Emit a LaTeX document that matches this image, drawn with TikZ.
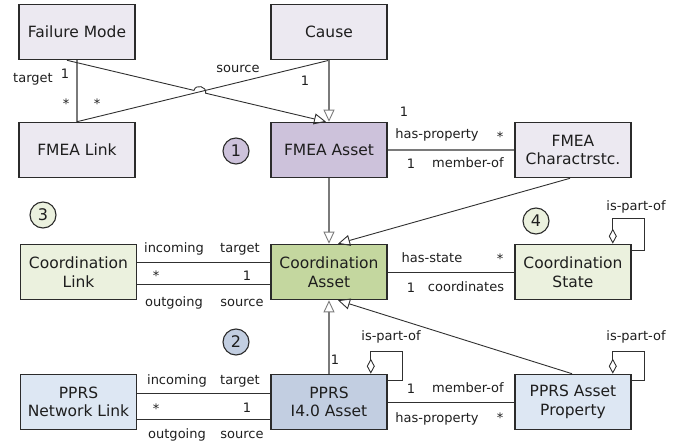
\documentclass[tikz,border=0pt]{standalone}
\usepackage{fontspec}
\setmainfont{DejaVu Sans}
\usetikzlibrary{arrows.meta,calc}

\definecolor{boxline}{HTML}{2B2B2B}
\definecolor{txt}{HTML}{1E1E1E}
\definecolor{linkdark}{HTML}{303030}
\definecolor{linkgray}{HTML}{7A7A7A}
\definecolor{fmeaLight}{HTML}{ECE9F1}
\definecolor{fmeaDark}{HTML}{CDC2DB}
\definecolor{coordLight}{HTML}{EBF1DE}
\definecolor{coordDark}{HTML}{C4D79F}
\definecolor{pprsLight}{HTML}{DDE7F3}
\definecolor{pprsDark}{HTML}{C2CEE1}

\begin{document}
\begin{tikzpicture}[x=1pt,y=-1pt,
  box/.style={draw=boxline, line width=1.6pt, minimum width=116pt,
    minimum height=55pt, inner sep=0pt, align=center, text=txt,
    font=\fontsize{15.5}{18.5}\selectfont},
  badge/.style={circle, draw=boxline, line width=1.1pt, minimum size=26pt,
    inner sep=0pt, text=txt, font=\fontsize{16}{18}\selectfont},
  lbl/.style={anchor=base, inner sep=0pt, text=txt,
    font=\fontsize{13}{15}\selectfont},
  assoc/.style={draw=linkdark, line width=0.9pt},
  assocgray/.style={draw=linkgray, line width=1.1pt},
  gen/.style={draw=linkdark, line width=0.9pt,
    -{Triangle[open, width=11pt, length=12pt, line width=0.9pt]}},
  gengray/.style={draw=linkgray, line width=1.1pt,
    -{Triangle[open, width=11pt, length=12pt, line width=0.9pt]}},
  partof/.style={draw=linkdark, line width=0.9pt,
    {Diamond[open, width=8pt, length=15pt, line width=0.9pt]}-},
]
\useasboundingbox (0,0) rectangle (694,444);

% ---- FMEA layer ----
\node[box, fill=fmeaLight] (fm)    at (77,32)  {Failure Mode};
\node[box, fill=fmeaLight] (cause) at (329,32) {Cause};
\node[box, fill=fmeaLight] (fl)    at (77,150) {FMEA Link};
\node[box, fill=fmeaDark]  (fa)    at (329,150) {FMEA Asset};
\node[box, fill=fmeaLight] (fc)    at (573,150) {FMEA\\Charactrstc.};

% ---- Coordination layer ----
\node[box, fill=coordLight] (cl) at (78.5,272) {Coordination\\Link};
\node[box, fill=coordDark]  (ca) at (329,272)  {Coordination\\Asset};
\node[box, fill=coordLight] (cs) at (573,272)  {Coordination\\State};

% ---- PPRS layer ----
\node[box, fill=pprsLight] (pl) at (78.5,402) {PPRS\\Network Link};
\node[box, fill=pprsDark]  (pa) at (329,402)  {PPRS\\I4.0 Asset};
\node[box, fill=pprsLight] (pp) at (573,402)  {PPRS Asset\\Property};

% ---- numbered badges ----
\node[badge, fill=fmeaDark]   (b1) at (236,151) {1};
\node[badge, fill=pprsDark]   (b2) at (236,342) {2};
\node[badge, fill=coordLight] (b3) at (43,215)  {3};
\node[badge, fill=coordLight] (b4) at (536,221) {4};

% ---- FMEA links ----
\draw[assocgray] (fm) -- (fl);
\draw[assoc] (fl.north) -- (cause.south);
% failure mode to FMEA asset, hopping over the link-to-cause line
\coordinate (hopA) at (194.0,90.4);
\coordinate (hopB) at (205.6,93.2);
\draw[gen] ([xshift=-10pt]fm.south) -- (hopA)
  .. controls (195.6,83.6) and (207.2,86.4) .. (hopB)
  -- ([xshift=-3pt]fa.north);
\draw[gengray] (cause) -- (fa);
\draw[assocgray] (fa) -- (fc);

\node[lbl] (t1) at (33,82)  {target};
\node[lbl] (t2) at (65,78)  {1};
\node[lbl] (t3) at (66,108) {*};
\node[lbl] (t4) at (97,108) {*};
\node[lbl] (t5) at (238,73) {source};
\node[lbl] (t6) at (305,85) {1};
\node[lbl] (t7) at (404,117) {1};
\node[lbl] (t8) at (437,139) {has-property};
\node[lbl] (t9) at (500,141) {*};
\node[lbl] (t10) at (411,168) {1};
\node[lbl] (t11) at (468,167) {member-of};

% ---- specialisation into Coordination Asset ----
\draw[gengray] (fa) -- (ca);
\draw[gen] ([xshift=-3pt]fc.south) -- ([xshift=9pt]ca.north);
\draw[gengray] (pa) -- (ca);
\draw[gen] ([xshift=-1pt]pp.north) -- ([xshift=9pt]ca.south);
\node[lbl] (t12) at (335,364) {1};

% ---- Coordination links ----
\draw[assoc] ([yshift=10pt]cl.east) -- ([yshift=10pt]ca.west);
\draw[assoc] ([yshift=-12pt]cl.east) -- ([yshift=-12pt]ca.west);
\draw[assoc] (ca) -- (cs);
\draw[partof] ([xshift=-19pt]cs.north east) -- ++(0,-25)
  -| ([xshift=13pt,yshift=-7pt]cs.north east) -- ([yshift=-7pt]cs.north east);

\node[lbl] (t13) at (174,252) {incoming};
\node[lbl] (t14) at (240,252) {target};
\node[lbl] (t15) at (156,280) {*};
\node[lbl] (t16) at (247,280) {1};
\node[lbl] (t17) at (174,306) {outgoing};
\node[lbl] (t18) at (242,306) {source};
\node[lbl] (t19) at (432,262) {has-state};
\node[lbl] (t20) at (500,263) {*};
\node[lbl] (t21) at (411,292) {1};
\node[lbl] (t22) at (466,291) {coordinates};
\node[lbl] (t23) at (636,210) {is-part-of};

% ---- PPRS links ----
\draw[assoc] ([yshift=9pt]pl.east) -- ([yshift=9pt]pa.west);
\draw[assoc] ([yshift=-17pt]pl.east) -- ([yshift=-17pt]pa.west);
\draw[assoc] (pa) -- (pp);
\draw[partof] ([xshift=-17pt]pa.north east) -- ++(0,-22)
  -| ([xshift=15pt,yshift=-7pt]pa.north east) -- ([yshift=-7pt]pa.north east);
\draw[partof] ([xshift=-19pt]pp.north east) -- ++(0,-22)
  -| ([xshift=13pt,yshift=-7pt]pp.north east) -- ([yshift=-7pt]pp.north east);

\node[lbl] (t24) at (177,384) {incoming};
\node[lbl] (t25) at (240,384) {target};
\node[lbl] (t26) at (156,413) {*};
\node[lbl] (t27) at (247,412) {1};
\node[lbl] (t28) at (177,438) {outgoing};
\node[lbl] (t29) at (242,438) {source};
\node[lbl] (t30) at (411,393) {1};
\node[lbl] (t31) at (468,392) {member-of};
\node[lbl] (t32) at (437,422) {has-property};
\node[lbl] (t33) at (500,422) {*};
\node[lbl] (t34) at (391,340) {is-part-of};
\node[lbl] (t35) at (636,340) {is-part-of};
\end{tikzpicture}
\end{document}
